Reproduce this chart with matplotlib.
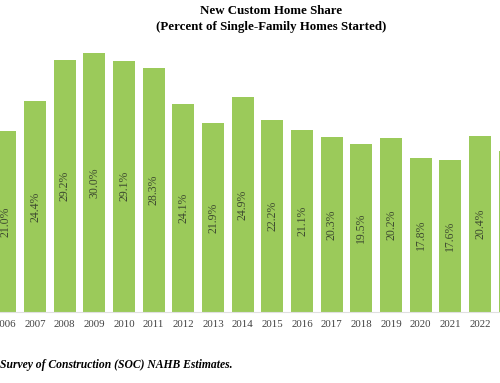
import matplotlib.pyplot as plt
import numpy as np

years = list(range(2006, 2024))
share = [21.0, 24.4, 29.2, 30.0, 29.1, 28.3, 24.1, 21.9, 24.9,
         22.2, 21.1, 20.3, 19.5, 20.2, 17.8, 17.6, 20.4, 18.7]
labels = [f'{v:.1f}%' for v in share]

plt.rcParams['font.family'] = ['Liberation Serif', 'DejaVu Serif']

fig = plt.figure(figsize=(5, 3.83), dpi=100)
ax = fig.add_axes([0, 0.1854, 1, 0.7102])
x_lo, x_hi = 2005.82, 2022.674

bars = ax.bar(years, share, width=0.74, color='#9bca5a')
for x, v, lab in zip(years, share, labels):
    if x > x_hi:
        continue  # label falls outside the cropped view
    ax.text(x, v / 2, lab, rotation=90, ha='center', va='center',
            fontsize=8.5, color='#3d4a30', clip_on=True)

# ticks first, then limits (set_xticks would widen the view otherwise)
ax.set_xticks(years[:-1])
ax.set_xticklabels([str(y) for y in years[:-1]], fontsize=7.8, color='#404040')
ax.set_xlim(x_lo, x_hi)
ax.set_ylim(0, 31.5)
ax.tick_params(axis='x', length=0, pad=6)
ax.set_yticks([])
for s in ['top', 'right', 'left']:
    ax.spines[s].set_visible(False)
ax.spines['bottom'].set_color('#e0e0e0')

fig.text(0.542, 1 - 11 / 383, 'New Custom Home Share', ha='center', va='center',
         fontsize=9.3, fontweight='bold')
fig.text(0.542, 1 - 27 / 383, '(Percent of Single-Family Homes Started)',
         ha='center', va='center', fontsize=9.3, fontweight='bold')
fig.text(0.0, 1 - 365 / 383, 'Survey of Construction (SOC) NAHB Estimates.',
         ha='left', va='center', fontsize=8.4, fontweight='bold', style='italic')

fig.savefig('out.png', dpi=100)
